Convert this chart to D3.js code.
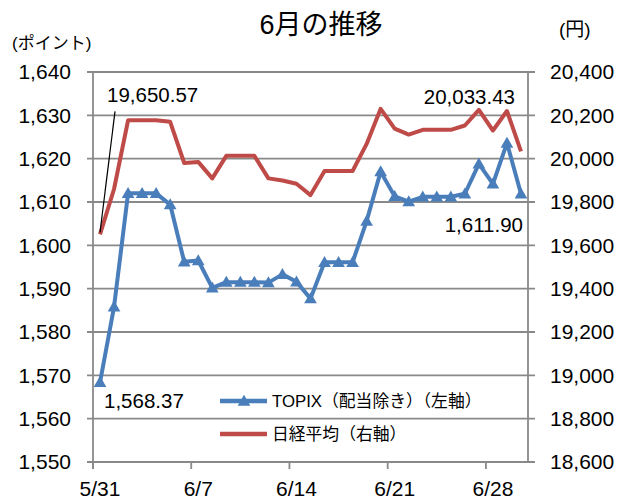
<!DOCTYPE html>
<meta charset="utf-8">
<script src="https://d3js.org/d3.v7.min.js"></script>
<style>
  body { margin: 0; background: #fff; }
  text { font-family: "Liberation Sans", "Noto Sans CJK JP", sans-serif; fill: #000; }
</style>
<div id="chart"></div>
<script>
// daily values, weekends carry the previous close
const dates = ["5/31", "6/1", "6/2", "6/3", "6/4", "6/5", "6/6", "6/7", "6/8", "6/9", "6/10",
  "6/11", "6/12", "6/13", "6/14", "6/15", "6/16", "6/17", "6/18", "6/19", "6/20", "6/21",
  "6/22", "6/23", "6/24", "6/25", "6/26", "6/27", "6/28", "6/29", "6/30"];
const topix = [1568.37, 1585.8, 1612.0, 1612.0, 1612.0, 1609.4, 1596.2, 1596.5, 1590.2, 1591.5, 1591.5,
  1591.5, 1591.4, 1593.3, 1591.6, 1587.7, 1596.1, 1596.1, 1596.1, 1605.6, 1617.0, 1611.3,
  1610.1, 1611.2, 1611.2, 1611.2, 1611.9, 1618.8, 1614.2, 1623.6, 1611.90];
const nikkei = [19650.57, 19860, 20177, 20177, 20177, 20170, 19980, 19985, 19909, 20013, 20013,
  20013, 19909, 19899, 19884, 19832, 19943, 19943, 19943, 20068, 20230, 20139,
  20111, 20133, 20133, 20133, 20153, 20225, 20130, 20220, 20033.43];
const leftTicks = [1550, 1560, 1570, 1580, 1590, 1600, 1610, 1620, 1630, 1640];
const rightTicks = [18600, 18800, 19000, 19200, 19400, 19600, 19800, 20000, 20200, 20400];
const xTicks = ["5/31", "6/7", "6/14", "6/21", "6/28"];
const seriesNames = ["TOPIX（配当除き）（左軸）", "日経平均（右軸）"];

const W = 631, H = 503;
const pLeft = 93, pRight = 528, pTop = 72, pBottom = 462;
const blue = "#4a7ebb", red = "#be4b48", grid = "#898989";

const svg = d3.select("#chart").append("svg")
  .attr("width", W).attr("height", H);

const x = d3.scaleBand().domain(dates).range([pLeft, pRight]).padding(0);
const cx = d => x(d) + x.bandwidth() / 2;
const yL = d3.scaleLinear().domain([1550, 1640]).range([pBottom, pTop]);
const yR = d3.scaleLinear().domain([18600, 20400]).range([pBottom, pTop]);

// gridlines
svg.append("g").selectAll("line")
  .data(leftTicks)
  .join("line")
  .attr("x1", pLeft - 6).attr("x2", pRight + 7)
  .attr("y1", d => yL(d)).attr("y2", d => yL(d))
  .attr("stroke", grid).attr("stroke-width", 1.8);

// axis lines
svg.append("line").attr("x1", pLeft).attr("x2", pLeft).attr("y1", pTop).attr("y2", pBottom + 7)
  .attr("stroke", grid).attr("stroke-width", 1.8);
svg.append("line").attr("x1", pRight).attr("x2", pRight).attr("y1", pTop).attr("y2", pBottom)
  .attr("stroke", grid).attr("stroke-width", 1.8);

// x tick marks at the start of each week
svg.append("g").selectAll("line")
  .data(xTicks)
  .join("line")
  .attr("x1", d => x(d)).attr("x2", d => x(d))
  .attr("y1", pBottom).attr("y2", pBottom + 7)
  .attr("stroke", grid).attr("stroke-width", 1.8);

// axis labels
const yAxisL = svg.append("g")
  .attr("transform", `translate(${pLeft},0)`)
  .call(d3.axisLeft(yL).tickValues(leftTicks).tickFormat(d3.format(",")).tickSize(0).tickPadding(22));
const yAxisR = svg.append("g")
  .attr("transform", `translate(${pRight},0)`)
  .call(d3.axisRight(yR).tickValues(rightTicks).tickFormat(d3.format(",")).tickSize(0).tickPadding(22));
const xAxis = svg.append("g")
  .attr("transform", `translate(0,${pBottom})`)
  .call(d3.axisBottom(x).tickValues(xTicks).tickSize(0).tickPadding(19));
[yAxisL, yAxisR, xAxis].forEach(a => {
  a.select(".domain").remove();
  a.selectAll("text").attr("font-size", "21px").attr("font-family", "Liberation Sans, sans-serif");
});

// lines
const lineL = d3.line().x((d, i) => cx(dates[i])).y(d => yL(d));
const lineR = d3.line().x((d, i) => cx(dates[i])).y(d => yR(d));

svg.append("path").datum(topix)
  .attr("d", lineL).attr("fill", "none")
  .attr("stroke", blue).attr("stroke-width", 4).attr("stroke-linejoin", "round");

svg.append("g").selectAll("path")
  .data(topix)
  .join("path")
  .attr("d", d3.symbol(d3.symbolTriangle, 70))
  .attr("transform", (d, i) => `translate(${cx(dates[i])},${yL(d) + 1})`)
  .attr("fill", blue);

svg.append("path").datum(nikkei)
  .attr("d", lineR).attr("fill", "none")
  .attr("stroke", red).attr("stroke-width", 4).attr("stroke-linejoin", "round");

// data labels
const n = dates.length - 1;
const p0 = [cx(dates[0]), yR(nikkei[0])];
svg.append("line")
  .attr("x1", p0[0]).attr("y1", p0[1] - 2)
  .attr("x2", p0[0] + 15).attr("y2", p0[1] - 123)
  .attr("stroke", "#000").attr("stroke-width", 1.2);
svg.append("text").attr("x", p0[0] + 7).attr("y", p0[1] - 132)
  .attr("font-size", "20.5px").text(d3.format(",.2f")(nikkei[0]));
svg.append("text").attr("x", cx(dates[n]) - 6).attr("y", yR(nikkei[n]) - 47)
  .attr("text-anchor", "end").attr("font-size", "20.5px").text(d3.format(",.2f")(nikkei[n]));
svg.append("text").attr("x", cx(dates[0]) + 4).attr("y", yL(topix[0]) + 26)
  .attr("font-size", "20.5px").text(d3.format(",.2f")(topix[0]));
svg.append("text").attr("x", cx(dates[n]) + 2).attr("y", yL(topix[n]) + 38)
  .attr("text-anchor", "end").attr("font-size", "20.5px").text(d3.format(",.2f")(topix[n]));

// titles
svg.append("text").attr("x", 321).attr("y", 34).attr("text-anchor", "middle")
  .attr("font-size", "27px").text("6月の推移");
svg.append("text").attr("x", 12).attr("y", 49).attr("font-size", "17px").text("(ポイント)");
svg.append("text").attr("x", 559).attr("y", 36).attr("font-size", "19px").text("(円)");

// legend
const legend = svg.append("g");
const ly = [401, 434];
const lcol = [blue, red];
seriesNames.forEach((name, i) => {
  legend.append("line").attr("x1", 220).attr("x2", 267).attr("y1", ly[i]).attr("y2", ly[i])
    .attr("stroke", lcol[i]).attr("stroke-width", 4.5);
  if (i === 0) {
    legend.append("path").attr("d", d3.symbol(d3.symbolTriangle, 70))
      .attr("transform", `translate(244,${ly[i] + 1})`).attr("fill", blue);
  }
  legend.append("text").attr("x", 272).attr("y", ly[i] + 6)
    .attr("font-size", "16.8px").text(name);
});
</script>
